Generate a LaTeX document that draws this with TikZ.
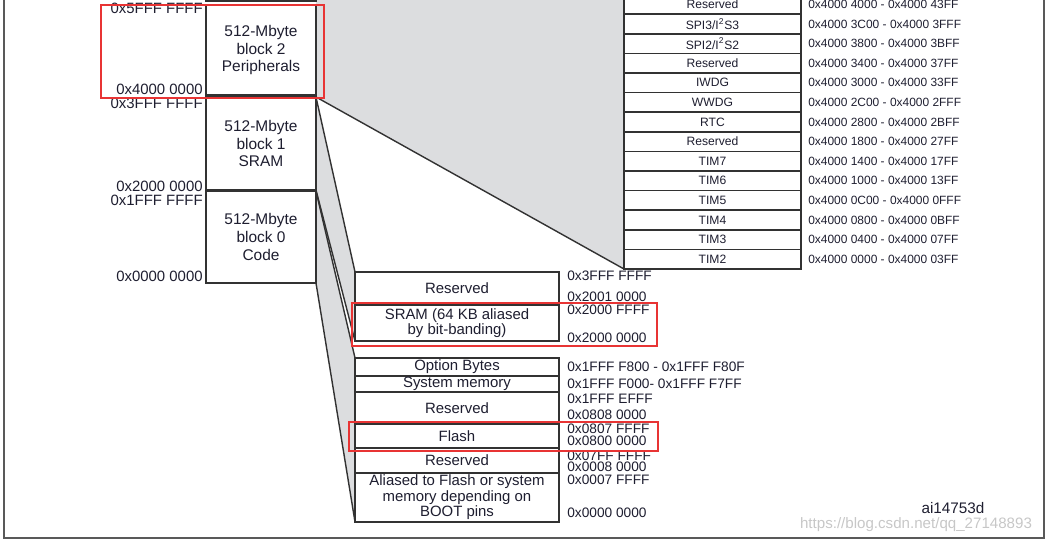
\documentclass[tikz,border=0pt]{standalone}
\usepackage{fontspec}
\setmainfont{Liberation Sans}
\usetikzlibrary{positioning, backgrounds}

\definecolor{wedgegray}{RGB}{220,221,223}
\definecolor{edgegray}{RGB}{50,50,50}
\definecolor{markred}{RGB}{232,52,52}
\definecolor{ink}{RGB}{30,30,48}

\begin{document}
\begin{tikzpicture}[
      x=0.02cm, y=-0.02cm,
      blk/.style={rectangle, draw=edgegray, line width=0.9pt, fill=white, align=center, minimum width=2.2cm, inner sep=0pt, outer sep=0pt, text=ink, font=\fontsize{8.8}{10.2}\selectfont},
      reg/.style={rectangle, draw=edgegray, line width=0.9pt, fill=white, minimum width=3.54cm, minimum height=0.392cm, inner sep=0pt, outer sep=0pt, text=ink, font=\fontsize{6.9}{7}\selectfont},
      seg/.style={rectangle, draw=edgegray, line width=0.9pt, fill=white, align=center, minimum width=4.08cm, inner sep=0pt, outer sep=0pt, text=ink, font=\fontsize{8.5}{8.8}\selectfont},
      addr/.style={inner sep=0pt, text=ink, font=\fontsize{8.5}{9}\selectfont},
      raddr/.style={inner sep=0pt, text=ink, font=\fontsize{6.8}{7}\selectfont},
      laddr/.style={inner sep=0pt, text=ink, font=\fontsize{7.8}{8}\selectfont},
      wedge/.style={fill=wedgegray},
      edge/.style={draw=edgegray, line width=0.8pt},
      hlbox/.style={draw=markred, line width=0.7pt}
    ]
    \clip (0,0) rectangle (1048,542);

    % outer frame
    \draw[draw=black!65, line width=1.1pt] (4,-10) -- (4,538) -- (1044,538) -- (1044,-10);

    % memory blocks
    \draw[edge, line width=0.9pt] (206,-20) rectangle (316,1);
    \node[blk, minimum height=1.8cm] (blk2) at (261,50) {512-Mbyte\\block 2\\Peripherals};
    \node[blk, minimum height=1.86cm, below=0.04cm of blk2] (blk1) {512-Mbyte\\block 1\\SRAM};
    \node[blk, minimum height=1.84cm, below=0.02cm of blk1] (blk0) {512-Mbyte\\block 0\\Code};

    % peripheral registers
    \foreach \name/\range [count=\i] in {%
        Reserved/0x4000 4000 - 0x4000 43FF,%
        {SPI3/I\textsuperscript{2}S3}/0x4000 3C00 - 0x4000 3FFF,%
        {SPI2/I\textsuperscript{2}S2}/0x4000 3800 - 0x4000 3BFF,%
        Reserved/0x4000 3400 - 0x4000 37FF,%
        IWDG/0x4000 3000 - 0x4000 33FF,%
        WWDG/0x4000 2C00 - 0x4000 2FFF,%
        RTC/0x4000 2800 - 0x4000 2BFF,%
        Reserved/0x4000 1800 - 0x4000 27FF,%
        TIM7/0x4000 1400 - 0x4000 17FF,%
        TIM6/0x4000 1000 - 0x4000 13FF,%
        TIM5/0x4000 0C00 - 0x4000 0FFF,%
        TIM4/0x4000 0800 - 0x4000 0BFF,%
        TIM3/0x4000 0400 - 0x4000 07FF,%
        TIM2/0x4000 0000 - 0x4000 03FF} {
      \node[reg] (p\i) at (712.5,{269-(14.5-\i)*19.6}) {\name};
      \node[raddr, right=0.14cm of p\i] (r\i) {\range};
    }

    % SRAM and code segments
    \node[seg, minimum height=0.66cm] (lres1) at (457,288.5) {Reserved};
    \node[seg, minimum height=0.72cm, below=0pt of lres1] (lsram) {SRAM (64 KB aliased\\by bit-banding)};
    \node[seg, minimum height=0.36cm, below=0.34cm of lsram] (lopt) {Option Bytes};
    \node[seg, minimum height=0.32cm, below=0pt of lopt] (lsys) {System memory};
    \node[seg, minimum height=0.64cm, below=0pt of lsys] (lres2) {Reserved};
    \node[seg, minimum height=0.48cm, below=0pt of lres2] (lflash) {Flash};
    \node[seg, minimum height=0.5cm, below=0pt of lflash] (lres3) {Reserved};
    \node[seg, minimum height=0.98cm, below=0pt of lres3] (lboot) {Aliased to Flash or system\\memory depending on\\BOOT pins};

    % zoom wedges
    \begin{scope}[on background layer]
      \fill[wedge] (blk2.north east) -- ++(0,-30) -- ([yshift=0.6cm]p1.north west) -- (p14.south west) -- (blk1.north east) -- cycle;
      \fill[wedge] (blk1.north east) -- (lres1.north west) -- (lsram.south west) -- (blk1.south east) -- cycle;
      \fill[wedge] (blk0.north east) -- (lopt.north west) -- (lboot.south west) -- (blk0.south east) -- cycle;
      \draw[edge] (blk1.north east) -- (p14.south west);
      \draw[edge] (blk1.north east) -- (lres1.north west);
      \draw[edge] (blk1.south east) -- (lsram.south west);
      \draw[edge] (blk0.north east) -- (lopt.north west);
      \draw[edge] (blk0.south east) -- (lboot.south west);
    \end{scope}

    % block addresses
    \foreach \txt/\yy [count=\i] in {0x5FFF FFFF/8, 0x4000 0000/89, 0x3FFF FFFF/103, 0x2000 0000/186, 0x1FFF FFFF/200, 0x0000 0000/276} {
      \node[addr, anchor=east] (a\i) at (203,\yy) {\txt};
    }

    % segment addresses
    \foreach \txt/\yy [count=\i] in {%
        0x3FFF FFFF/276, 0x2001 0000/297, 0x2000 FFFF/310, 0x2000 0000/338,%
        0x1FFF F800 - 0x1FFF F80F/367, 0x1FFF F000- 0x1FFF F7FF/384,%
        0x1FFF EFFF/399, 0x0808 0000/415, 0x0807 FFFF/429, 0x0800 0000/441,%
        0x07FF FFFF/456, 0x0008 0000/467, 0x0007 FFFF/480, 0x0000 0000/513} {
      \node[laddr, anchor=west] (s\i) at (567,\yy) {\txt};
    }

    % highlight marks
    \draw[hlbox] (101,5) rectangle (324,98);
    \draw[hlbox] (352,303) rectangle (657,346);
    \draw[hlbox] (349,422) rectangle (658,451);

    \node[addr, font=\fontsize{8.7}{9}\selectfont] (fig) at (953,508) {ai14753d};
    \node[inner sep=0pt, text=black!22, font=\fontsize{8.6}{9}\selectfont] (wm) at (916,525) {https://blog.csdn.net/qq\_27148893};
  \end{tikzpicture}
\end{document}
